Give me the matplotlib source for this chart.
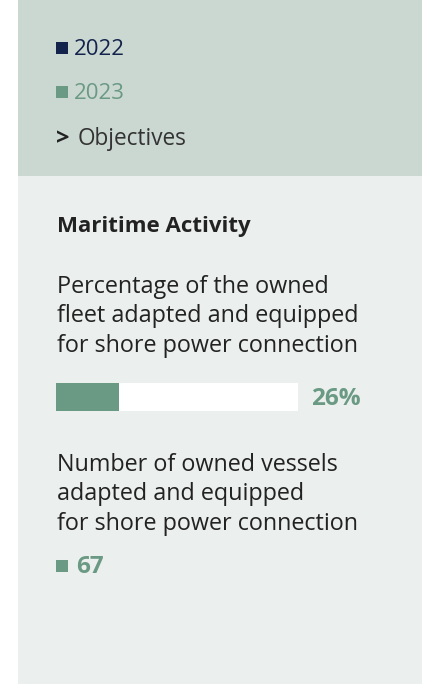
import matplotlib.pyplot as plt
from matplotlib.patches import Rectangle

# data
years = ["2022", "2023"]
year_colors = ["#14234b", "#6a9984"]
section = "Maritime Activity"
pct_lines = ["Percentage of the owned", "fleet adapted and equipped",
             "for shore power connection"]
pct_value = 26
count_lines = ["Number of owned vessels", "adapted and equipped",
               "for shore power connection"]
count_value = 67

W, H = 437, 684
plt.rcParams['font.family'] = ['Open Sans', 'DejaVu Sans']

fig = plt.figure(figsize=(W / 100, H / 100), dpi=100)
fig.patch.set_facecolor("white")
bg = fig.add_axes([0, 0, 1, 1])
bg.set_xlim(0, W)
bg.set_ylim(H, 0)
bg.axis("off")

# panel backgrounds
bg.add_patch(Rectangle((18, 0), 404, H, color="#ebefed", lw=0))
bg.add_patch(Rectangle((18, 0), 404, 176, color="#cbd8d2", lw=0))

# legend
for i, (y, c) in enumerate(zip(years, year_colors)):
    base = 55 + i * 44
    bg.add_patch(Rectangle((56, base - 13), 12, 12, color=c, lw=0))
    bg.text(74, base, y, color=c, fontsize=16, va="baseline", ha="left")
bg.text(56, 145, ">", color="#222222", fontsize=17, fontweight="bold", va="baseline")
bg.text(78, 145, "Objectives", color="#333333", fontsize=16.3, va="baseline")

txt = "#222222"
bg.text(57, 232, section, color=txt, fontsize=16, fontweight="bold", va="baseline")
for k, line in enumerate(pct_lines):
    bg.text(57, 293 + k * 29.5, line, color=txt, fontsize=16.8, va="baseline")

# progress bar
bar = fig.add_axes([56 / W, 1 - 411 / H, (298 - 56) / W, 28 / H])
bar.barh(0, 100, height=1, color="white")
bar.barh(0, pct_value, height=1, color=year_colors[1])
bar.set_xlim(0, 100)
bar.set_ylim(-0.5, 0.5)
bar.axis("off")
bg.text(311, 405, f"{pct_value}%", color=year_colors[1], fontsize=17.5,
        fontweight="bold", va="baseline")

for k, line in enumerate(count_lines):
    bg.text(57, 471 + k * 29.5, line, color=txt, fontsize=16.8, va="baseline")
bg.add_patch(Rectangle((56, 560), 12, 12, color=year_colors[1], lw=0))
bg.text(76, 573, str(count_value), color=year_colors[1], fontsize=17.5,
        fontweight="bold", va="baseline")

fig.savefig("out.png", dpi=100, facecolor=fig.get_facecolor())
